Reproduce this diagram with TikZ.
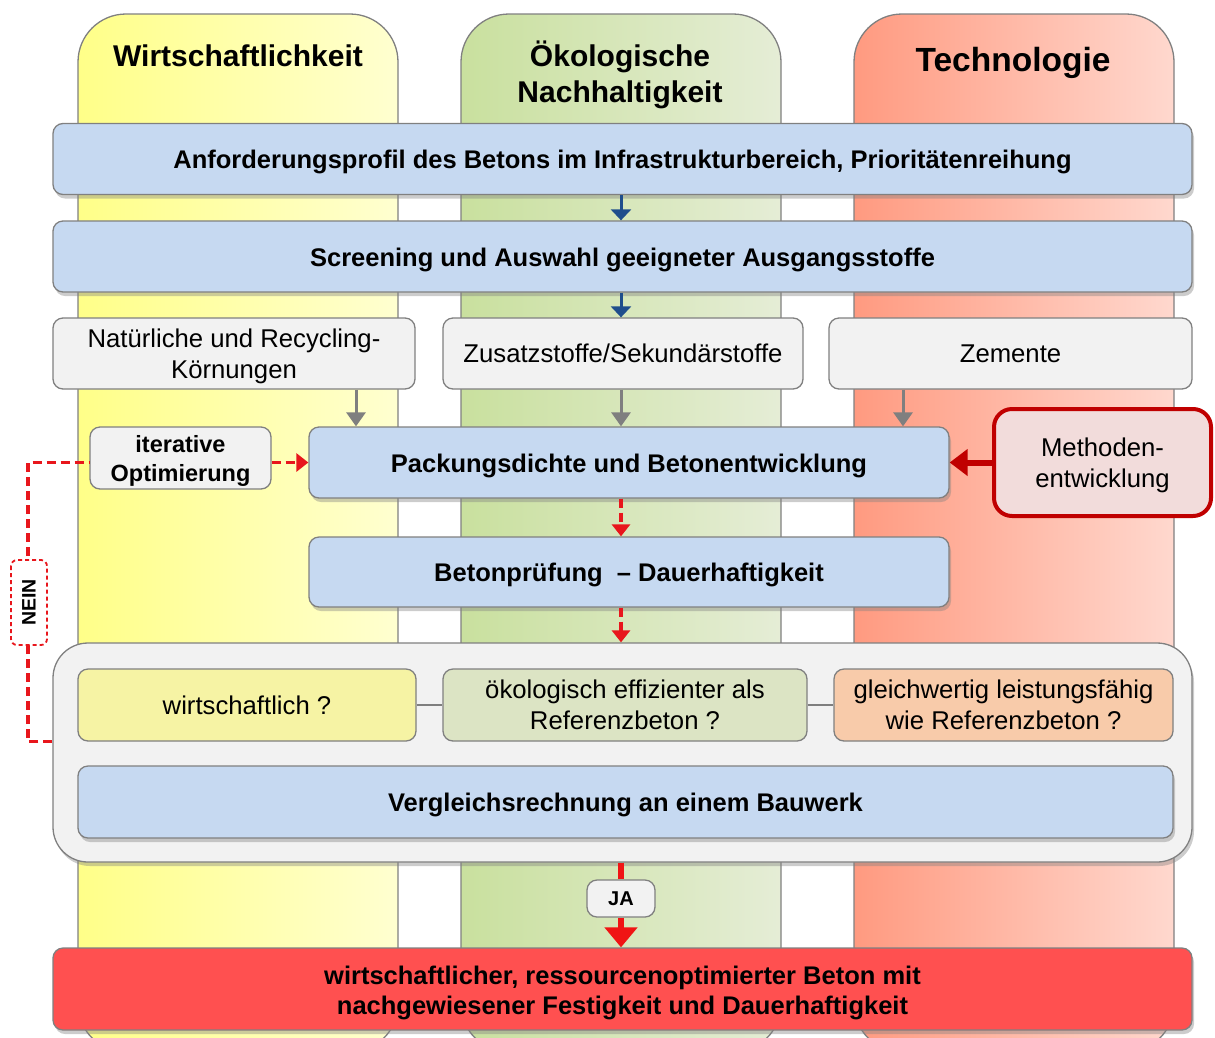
\documentclass[tikz,border=0pt]{standalone}
\usepackage{fontspec}
\setmainfont{Liberation Sans}
\usetikzlibrary{shadows,arrows.meta}
\definecolor{bordergray}{HTML}{808080}
\definecolor{boxblue}{HTML}{C6D9F1}
\definecolor{boxgray}{HTML}{F2F2F2}
\definecolor{yelL}{HTML}{FFFF88}
\definecolor{yelR}{HTML}{FFFFD0}
\definecolor{grnL}{HTML}{C9E09E}
\definecolor{grnR}{HTML}{E5EDD6}
\definecolor{redL}{HTML}{FF9A80}
\definecolor{redR}{HTML}{FFD8CE}
\definecolor{arrblue}{HTML}{1F4E8C}
\definecolor{arrgray}{HTML}{7F7F7F}
\definecolor{dashred}{HTML}{E8161C}
\definecolor{darkred}{HTML}{C00000}
\definecolor{methfill}{HTML}{F2DCDB}
\definecolor{finred}{HTML}{FF5050}
\definecolor{qyel}{HTML}{F6F3A4}
\definecolor{qgrn}{HTML}{DCE4C4}
\definecolor{qorg}{HTML}{F8CBAA}
\definecolor{jared}{HTML}{F01414}
\begin{document}
\begin{tikzpicture}[x=1pt,y=-1pt,
  column/.style={draw=bordergray, line width=1.3pt, rounded corners=48pt},
  base/.style={draw=bordergray, line width=1.3pt, rounded corners=10pt, align=center, inner sep=2pt, font=\fontsize{25.7}{31}\selectfont},
  shad/.style={drop shadow={shadow xshift=2pt, shadow yshift=-4pt, opacity=0.4}},
  bluebox/.style={base, shad, fill=boxblue, text height=25pt, font=\bfseries\fontsize{25.5}{31}\selectfont},
  graybox/.style={base, fill=boxgray},
  header/.style={align=center, font=\bfseries\fontsize{30}{36}\selectfont},
  bluearr/.style={draw=arrblue, line width=3pt, -{Triangle[width=20pt,length=11pt]}},
  grayarr/.style={draw=arrgray, line width=3pt, -{Triangle[width=19pt,length=14pt]}},
  redarr/.style={draw=dashred, line width=3.2pt, dash pattern=on 9pt off 5pt, -{Triangle[width=18pt,length=12pt]}},
  redline/.style={draw=dashred, line width=3.2pt, dash pattern=on 9pt off 5pt},
  metharr/.style={draw=darkred, line width=6pt, -{Triangle[width=26pt,length=18pt]}},
  conn/.style={draw=arrgray, line width=2.5pt},
  jaline/.style={draw=jared, line width=6pt},
  jaarr/.style={draw=jared, line width=6pt, -{Triangle[width=32pt,length=20pt]}}
]
\useasboundingbox (0,0) rectangle (1215,1037);
% columns
\path[column, left color=yelL, right color=yelR] (78,14) rectangle (398,1052);
\path[column, left color=grnL, right color=grnR] (461,14) rectangle (781,1052);
\path[column, left color=redL, right color=redR] (854,14) rectangle (1174,1052);
\node[header] (h1) at (238,56) {Wirtschaftlichkeit};
\node[header] (h2) at (620,75) {Ökologische\\Nachhaltigkeit};
\node[header, font=\bfseries\fontsize{33.5}{40}\selectfont] (h3) at (1013,63) {Technologie};
% coordinates for vertical connectors
\coordinate (cx) at (621,0);
\coordinate (g1) at (356,0);
\coordinate (g3) at (903,0);
\coordinate (nx) at (28,0);
% boxes
\node[bluebox, minimum width=1139pt, minimum height=71pt] (anf) at (622.5,159) {Anforderungsprofil des Betons im Infrastrukturbereich, Prioritätenreihung};
\node[bluebox, minimum width=1139pt, minimum height=71pt] (scr) at (622.5,256.5) {Screening und Auswahl geeigneter Ausgangsstoffe};
\node[graybox, minimum width=362pt, minimum height=71pt, text height=55.4pt] (nat) at (234,353.5) {Natürliche und Recycling-\\Körnungen};
\node[graybox, minimum width=360pt, minimum height=71pt] (zus) at (623,353.5) {Zusatzstoffe/Sekundärstoffe};
\node[graybox, minimum width=363pt, minimum height=71pt] (zem) at (1010.5,353.5) {Zemente};
\node[bluebox, minimum width=640pt, minimum height=71pt] (pack) at (629,462.5) {Packungsdichte und Betonentwicklung};
\node[graybox, minimum width=181pt, minimum height=62pt, text height=51.8pt, font=\bfseries\fontsize{23.5}{29}\selectfont] (iter) at (180.5,458) {iterative\\Optimierung};
\node[base, draw=darkred, line width=4pt, rounded corners=18pt, fill=methfill, text height=55.4pt, minimum width=217pt, minimum height=107pt] (meth) at (1102.5,462.5) {Methoden-\\entwicklung};
\node[bluebox, minimum width=640pt, minimum height=70pt] (bet) at (629,572) {Betonprüfung~ – Dauerhaftigkeit};
\node[base, shad, fill=boxgray, rounded corners=35pt, minimum width=1139pt, minimum height=219pt] (cont) at (622.5,752.5) {};
\node[base, fill=qyel, minimum width=338pt, minimum height=72pt] (wq) at (247,705) {wirtschaftlich ?};
\node[base, fill=qgrn, minimum width=364pt, minimum height=72pt] (oq) at (625,705) {ökologisch effizienter als\\Referenzbeton ?};
\node[base, fill=qorg, minimum width=339pt, minimum height=72pt] (gq) at (1003.5,705) {gleichwertig leistungsfähig\\wie Referenzbeton ?};
\node[bluebox, minimum width=1095pt, minimum height=72pt] (ver) at (625.5,802) {Vergleichsrechnung an einem Bauwerk};
\node[graybox, minimum width=68pt, minimum height=37pt, font=\bfseries\fontsize{20}{24}\selectfont] (ja) at (621,898.5) {JA};
\node[bluebox, fill=finred, minimum width=1139pt, minimum height=82pt, text height=56.3pt, font=\bfseries\fontsize{25.5}{30}\selectfont] (fin) at (622.5,989) {wirtschaftlicher, ressourcenoptimierter Beton mit\\nachgewiesener Festigkeit und Dauerhaftigkeit};
% connectors
\draw[bluearr] (anf.south -| cx) -- (scr.north -| cx);
\draw[bluearr] (scr.south -| cx) -- (zus.north -| cx);
\draw[grayarr] (nat.south -| g1) -- (pack.north -| g1);
\draw[grayarr] (zus.south -| cx) -- (pack.north -| cx);
\draw[grayarr] (zem.south -| g3) -- (pack.north -| g3);
\draw[redarr] (iter.east |- pack.west) -- (pack.west);
\draw[metharr] (meth.west) -- (pack.east);
\draw[redarr] (pack.south -| cx) -- (bet.north -| cx);
\draw[redarr] (bet.south -| cx) -- (cont.north -| cx);
\draw[conn] (wq.east) -- (oq.west);
\draw[conn] (oq.east) -- (gq.west);
\draw[redline] (cont.west |- wq.south) -- (wq.south -| nx) -- (pack.west -| nx) -- (pack.west -| iter.west);
\node[draw=dashred, line width=1.8pt, dash pattern=on 4pt off 3pt, fill=white, rounded corners=6pt, rotate=90, minimum width=85pt, minimum height=36pt, inner sep=1pt, font=\bfseries\fontsize{19.5}{22}\selectfont] (nein) at (29,602.5) {NEIN};
\draw[jaline] (cont.south -| cx) -- (ja.north -| cx);
\draw[jaarr] (ja.south -| cx) -- (fin.north -| cx);
\end{tikzpicture}
\end{document}
